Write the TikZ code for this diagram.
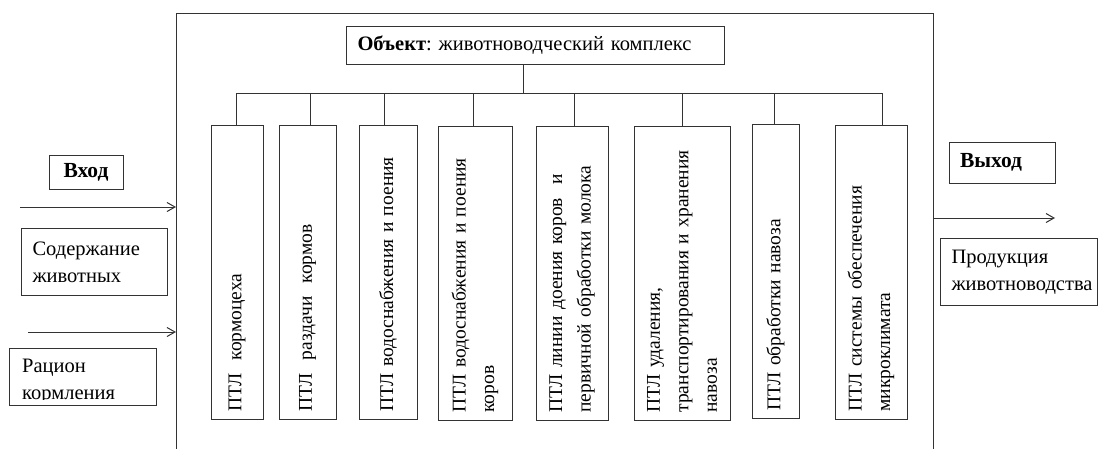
\documentclass[tikz,border=0pt]{standalone}
\usepackage{fontspec}
\setmainfont{Liberation Serif}
\usetikzlibrary{arrows.meta,calc}
\frenchspacing
\newcommand\tightsp[1]{\spaceskip=#1em\relax}
\begin{document}
\begin{tikzpicture}[x=1pt,y=-1pt]
\tikzset{
  ln/.style={draw=black!80, line width=1pt},
  box/.style={draw=black!80, line width=1pt, inner sep=0pt},
  txt/.style={font={\fontsize{20.5}{27}\selectfont\tightsp{0.22}}},
  btxt/.style={font={\fontsize{21.5}{27}\selectfont\bfseries}},
  vbox/.style={box, rotate=90, font={\fontsize{19.5}{28.5}\selectfont\tightsp{0.2}}, align=left,
    text width=279pt, inner xsep=7.5pt, inner ysep=0pt, minimum width=294pt},
  arr/.style={draw=black!80, line width=1pt, -{Straight Barb[length=8pt,width=9pt]}},
}
\useasboundingbox (0,0) rectangle (1099,448);
\fill[white] (0,0) rectangle (1099,448);

% main object frame
\node[box, anchor=north west, minimum width=757pt, minimum height=470pt] (main) at (176,13) {};

% object title
\node[box, txt, anchor=north west, minimum width=378pt, minimum height=38pt,
  text width=356pt, align=left, inner xsep=11pt] (obj) at (346,26)
  {\textbf{Объект}: животноводческий комплекс};

% sub-boxes
\node[vbox, minimum height=52pt] (b1) at (237,272) {ПТЛ\ \ кормоцеха};
\node[vbox, minimum height=57pt] (b2) at (307.5,272) {ПТЛ\ \ раздачи\ \ кормов};
\node[vbox, minimum height=58pt] (b3) at (388,272) {ПТЛ водоснабжения и поения};
\node[vbox, minimum height=74pt] (b4) at (475,273) {ПТЛ водоснабжения и поения\\коров};
\node[vbox, minimum height=72pt] (b5) at (572,273) {ПТЛ линии доения коров\ \ и\\первичной обработки молока};
\node[vbox, minimum height=96pt] (b6) at (682,273) {ПТЛ удаления,\\транспортирования и хранения\\навоза};
\node[vbox, minimum height=47pt] (b7) at (775.5,271) {ПТЛ обработки навоза};
\node[vbox, minimum height=72pt] (b8) at (871,272) {ПТЛ системы обеспечения\\микроклимата};

% tree connectors
\coordinate (jt) at (523,93);
\coordinate (j1) at (236,93);
\coordinate (j2) at (310,93);
\coordinate (j3) at (384,93);
\coordinate (j4) at (473,93);
\coordinate (j5) at (574,93);
\coordinate (j6) at (682,93);
\coordinate (j7) at (774,93);
\coordinate (j8) at (882,93);
\draw[ln] (obj.south -| jt) -- (jt);
\draw[ln] (j1) -- (j8);
\foreach \i in {1,...,8} { \draw[ln] (j\i) -- (j\i |- b\i.east); }

% input side
\node[box, btxt, minimum width=74pt, minimum height=34pt] (vhod) at (86,172) {Вход};
\node[box, txt, anchor=north west, minimum width=146pt, minimum height=67pt,
  text width=124pt, align=left, inner xsep=11pt] (sod) at (21,228) {Содержание\\животных};
\node[box, anchor=north west, minimum width=147pt, minimum height=57pt] (rac) at (9,348) {};
\begin{scope}
  \clip (9,348) rectangle (156,399);
  \node[txt, anchor=north west, align=left, inner sep=0pt] (ract) at (22,359) {Рацион\\кормления};
\end{scope}
\coordinate (in1) at (20,207);
\coordinate (in2) at (28,332);
\draw[arr] (in1) -- (in1 -| main.west);
\draw[arr] (in2) -- (in2 -| main.west);

% output side
\node[box, btxt, minimum width=106pt, minimum height=41pt, text width=84pt,
  align=left, inner xsep=11pt] (vyh) at (1002,162.5) {Выход};
\node[box, txt, anchor=north west, minimum width=157pt, minimum height=67pt,
  text width=135pt, align=left, inner xsep=11pt] (prod) at (940,238) {Продукция\\животноводства};
\coordinate (out) at (1055,218);
\draw[arr] (out -| main.east) -- (out);
\end{tikzpicture}
\end{document}
